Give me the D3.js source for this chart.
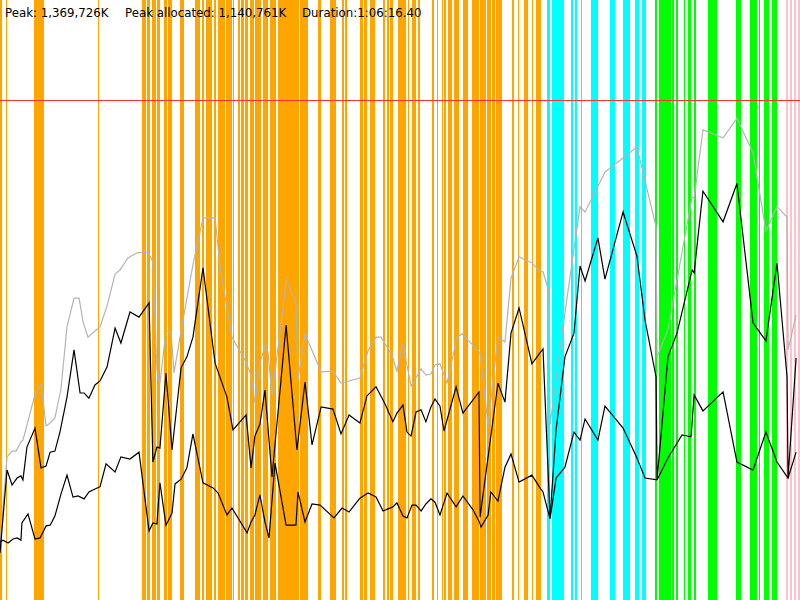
<!DOCTYPE html>
<html>
<head>
<meta charset="utf-8">
<script src="https://cdn.jsdelivr.net/npm/d3@7"></script>
<style>
  body { margin: 0; background: #fff; }
  svg { display: block; }
</style>
</head>
<body>
<div id="chart"></div>
<script>
// memory profile: time in seconds, memory in thousands of K
var duration = 3976.4;
var peak = 1369.726;
var headerTexts = ["Peak: 1,369,726K", "Peak allocated: 1,140,761K", "Duration:1:06:16.40"];

// phase bands [start s, end s]
var orangeBands = [
  [0, 10], [30, 37], [169, 219], [485, 492], [704, 724], [731, 747], [754, 774], [780, 794],
  [817, 830], [834, 844], [846, 856], [896, 913], [969, 996], [1003, 1015], [1022, 1055],
  [1062, 1075], [1082, 1118], [1122, 1152], [1158, 1165], [1181, 1194], [1198, 1211],
  [1218, 1234], [1241, 1261], [1267, 1297], [1307, 1334], [1342, 1372], [1382, 1485],
  [1491, 1531], [1582, 1594], [1640, 1670], [1698, 1710], [1713, 1723], [1789, 1803],
  [1809, 1823], [1839, 1862], [1905, 1915], [1922, 1935], [1938, 1952], [1980, 2019],
  [2026, 2029], [2049, 2056], [2059, 2066], [2079, 2089], [2149, 2156], [2172, 2179],
  [2195, 2202], [2208, 2215], [2225, 2248], [2255, 2281], [2301, 2328], [2345, 2381],
  [2384, 2417], [2421, 2441], [2444, 2460], [2464, 2494], [2543, 2553], [2573, 2580],
  [2606, 2623], [2643, 2649], [2666, 2691]
];
var cyanBands = [
  [2720, 2734], [2744, 2803], [2837, 2847], [2860, 2870], [2886, 2893], [2936, 2972],
  [3032, 3058], [3095, 3131], [3158, 3178], [3191, 3211]
];
var greenBands = [
  [3254, 3267], [3277, 3335], [3339, 3352], [3359, 3372], [3398, 3405], [3421, 3435],
  [3451, 3461], [3521, 3547], [3550, 3564], [3657, 3683], [3726, 3763], [3773, 3779],
  [3796, 3822], [3836, 3862]
];
var pinkBands = [[3905, 3918], [3925, 3935], [3945, 3955], [3965, 3975]];

// grey line [s, thousands K]
var greySeries = [
  [0, 151], [35, 392], [60, 408], [80, 408], [104, 433], [114, 438], [134, 479], [174, 564],
  [204, 592], [229, 477], [249, 485], [273, 499], [303, 578], [333, 748], [368, 827], [393, 827],
  [413, 762], [437, 720], [472, 737], [497, 748], [532, 805], [572, 893], [596, 904], [636, 937],
  [681, 951], [736, 953], [760, 926], [780, 630], [795, 594], [825, 737], [850, 734], [865, 622],
  [905, 753], [959, 918], [1009, 1046], [1069, 1046], [1094, 912], [1153, 720], [1218, 657],
  [1248, 616], [1267, 540], [1292, 649], [1317, 696], [1332, 679], [1352, 562], [1407, 800],
  [1422, 879], [1471, 814], [1481, 603], [1516, 729], [1596, 625], [1655, 627], [1695, 594],
  [1789, 608], [1829, 682], [1869, 720], [1894, 720], [1948, 671], [1973, 627], [2003, 701],
  [2043, 586], [2093, 633], [2117, 616], [2142, 619], [2162, 644], [2187, 647], [2222, 594],
  [2272, 720], [2296, 729], [2386, 677], [2426, 479], [2475, 720], [2510, 707], [2540, 882],
  [2580, 940], [2644, 923], [2684, 901], [2699, 899], [2729, 844], [2734, 479], [2798, 748],
  [2883, 1077], [2908, 1063], [3007, 1172], [3166, 1241], [3261, 1022], [3266, 666], [3320, 740],
  [3440, 1104], [3450, 1101], [3494, 1288], [3594, 1266], [3663, 1320], [3743, 1225],
  [3807, 1011], [3862, 1077], [3912, 1049], [3917, 685], [3957, 781]
];

// allocated line
var allocatedSeries = [
  [0, 129], [35, 356], [60, 315], [85, 334], [104, 340], [114, 329], [134, 419], [174, 471],
  [204, 362], [229, 367], [249, 405], [273, 408], [298, 460], [333, 556], [368, 685], [398, 567],
  [418, 567], [442, 553], [472, 589], [497, 600], [532, 638], [572, 745], [601, 704], [646, 789],
  [691, 775], [741, 814], [760, 378], [780, 419], [795, 416], [825, 622], [855, 411], [900, 636],
  [929, 666], [959, 720], [1009, 910], [1069, 649], [1128, 556], [1158, 466], [1223, 507],
  [1248, 362], [1267, 449], [1292, 482], [1317, 575], [1352, 337], [1422, 753], [1476, 411],
  [1516, 597], [1551, 425], [1596, 529], [1655, 523], [1695, 455], [1735, 507], [1789, 485],
  [1824, 559], [1869, 584], [1914, 537], [1953, 488], [1973, 512], [2003, 534], [2023, 460],
  [2043, 449], [2068, 515], [2093, 521], [2117, 488], [2142, 529], [2162, 551], [2187, 531],
  [2207, 463], [2267, 584], [2301, 512], [2381, 570], [2386, 227], [2475, 594], [2510, 542],
  [2540, 731], [2580, 800], [2644, 647], [2684, 677], [2699, 688], [2734, 225], [2764, 466],
  [2808, 666], [2853, 731], [2883, 915], [2908, 874], [2972, 992], [3007, 879], [3097, 1063],
  [3166, 942], [3206, 767], [3261, 611], [3266, 329], [3320, 666], [3365, 731], [3440, 904],
  [3450, 896], [3494, 1120], [3594, 1036], [3663, 1141], [3743, 759], [3807, 710], [3862, 923],
  [3912, 611], [3917, 334], [3957, 663]
];

// live line
var liveSeries = [
  [0, 159], [15, 164], [40, 156], [65, 167], [85, 170], [104, 164], [109, 211], [139, 236],
  [174, 167], [199, 170], [229, 203], [249, 205], [273, 230], [303, 290], [333, 342], [363, 282],
  [388, 285], [418, 277], [442, 296], [472, 304], [497, 310], [527, 373], [572, 351], [601, 392],
  [646, 386], [691, 405], [741, 189], [760, 211], [780, 208], [795, 321], [825, 205], [855, 238],
  [870, 318], [900, 331], [929, 362], [959, 455], [1009, 321], [1059, 307], [1084, 293],
  [1128, 233], [1153, 252], [1228, 184], [1248, 214], [1267, 233], [1292, 288], [1317, 214],
  [1337, 170], [1367, 375], [1422, 205], [1471, 205], [1481, 296], [1516, 214], [1551, 263],
  [1591, 260], [1660, 225], [1700, 252], [1735, 241], [1789, 279], [1829, 293], [1869, 282],
  [1904, 244], [1953, 255], [1973, 266], [2003, 230], [2023, 225], [2048, 260], [2068, 260],
  [2093, 244], [2117, 263], [2142, 277], [2162, 268], [2187, 233], [2222, 293], [2267, 255],
  [2301, 285], [2351, 247], [2381, 216], [2391, 200], [2426, 233], [2440, 296], [2475, 271],
  [2510, 364], [2540, 400], [2580, 323], [2644, 342], [2684, 307], [2699, 296], [2734, 222],
  [2764, 334], [2808, 364], [2853, 460], [2883, 438], [2908, 496], [2972, 438], [3007, 531],
  [3097, 471], [3166, 389], [3206, 334], [3266, 329], [3320, 389], [3390, 452], [3435, 447],
  [3450, 562], [3494, 518], [3594, 570], [3663, 378], [3743, 356], [3807, 460], [3862, 378],
  [3917, 334], [3957, 405]
];

var width = 800;
var height = 600;

var svg = d3.select("#chart")
  .append("svg")
  .attr("width", width)
  .attr("height", height);

var x = d3.scaleLinear().domain([0, duration]).range([0, width]);
// red line (peak) sits 100px below the top
var y = d3.scaleLinear().domain([0, peak * 600 / 500]).range([height, 0]);

function drawBands(list, color) {
  svg.append("g")
    .attr("shape-rendering", "crispEdges")
    .selectAll("rect")
    .data(list)
    .enter()
    .append("rect")
    .attr("x", d => x(d[0]))
    .attr("y", 0)
    .attr("width", d => Math.max(1, x(d[1]) - x(d[0])))
    .attr("height", height)
    .attr("fill", color);
}

drawBands(orangeBands, "#ffa500");
drawBands(cyanBands, "#00ffff");
drawBands(greenBands, "#00ff00");
drawBands(pinkBands, "#ffc0cb");

svg.append("line")
  .attr("x1", 0)
  .attr("x2", width)
  .attr("y1", y(peak))
  .attr("y2", y(peak))
  .attr("stroke", "#ff3030")
  .attr("stroke-width", 1)
  .attr("shape-rendering", "crispEdges");

var line = d3.line()
  .x(d => x(d[0]))
  .y(d => y(d[1]));

svg.append("path")
  .datum(greySeries)
  .attr("d", line)
  .attr("fill", "none")
  .attr("stroke", "#b4b4b4")
  .attr("stroke-width", 1.2);

svg.append("path")
  .datum(allocatedSeries)
  .attr("d", line)
  .attr("fill", "none")
  .attr("stroke", "#000")
  .attr("stroke-width", 1.2);

svg.append("path")
  .datum(liveSeries)
  .attr("d", line)
  .attr("fill", "none")
  .attr("stroke", "#000")
  .attr("stroke-width", 1.2);

var textX = [5, 125, 302];
svg.append("g")
  .selectAll("text")
  .data(headerTexts)
  .enter()
  .append("text")
  .attr("x", (d, i) => textX[i])
  .attr("y", 17)
  .attr("font-family", "DejaVu Sans, sans-serif")
  .attr("font-size", 11.8)
  .attr("fill", "#000")
  .text(d => d);
</script>
</body>
</html>
